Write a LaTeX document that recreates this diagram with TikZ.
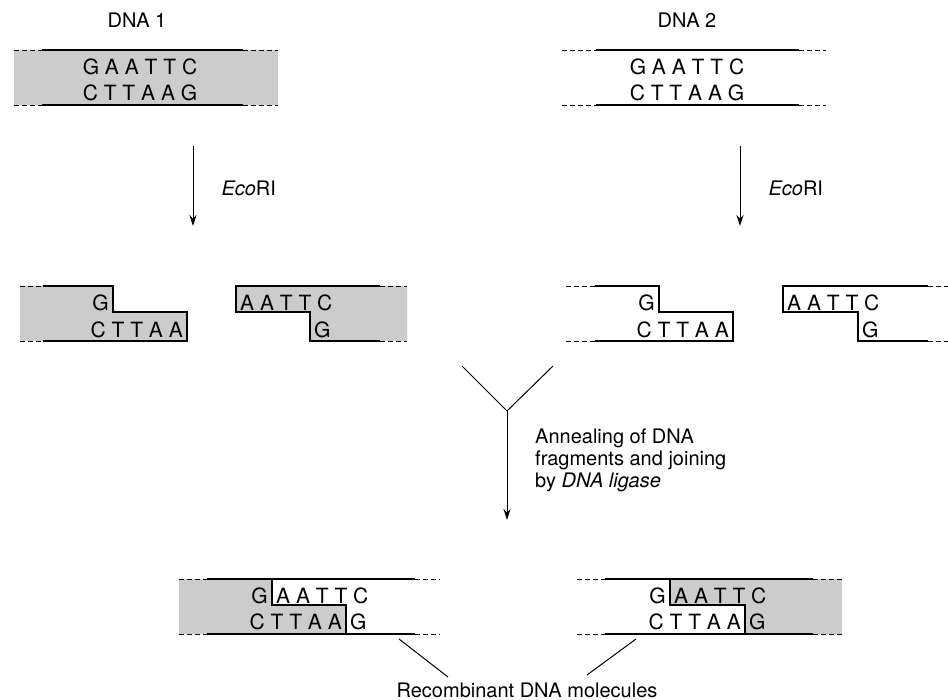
\documentclass[tikz,border=0pt]{standalone}
\usepackage{fontspec}
\setmainfont{TeX Gyre Heros}
\usetikzlibrary{arrows.meta}
\definecolor{dnagray}{HTML}{CCCCCC}

\begin{document}
\begin{tikzpicture}[x=1pt,y=-1pt,
  font=\fontsize{20}{22}\selectfont,
  strand/.style={line width=1.2pt},
  loose/.style={line width=0.8pt,dash pattern=on 5pt off 3pt},
  base/.style={inner sep=0pt,inner xsep=4pt,font=\fontsize{21}{23}\selectfont},
  flow/.style={line width=1pt,-{Stealth[length=11pt,width=7pt]}}]
\useasboundingbox (0,0) rectangle (948,700);

% DNA 1
\node (dnaone) at (137,20) {DNA 1};
\fill[dnagray] (14,50) rectangle (278,105);
\draw[loose] (14,50) -- (42,50) (243,50) -- (278,50) (14,105) -- (42,105) (243,105) -- (278,105);
\draw[strand] (42,50) -- (243,50) (42,105) -- (243,105);
\node[base] (topone) at (140,67) {G A A T T C};
\node[base] (botone) at (140,93) {C T T A A G};

% DNA 2
\node (dnatwo) at (687,20) {DNA 2};
\draw[loose] (562,50) -- (596,50) (799,50) -- (826,50) (562,105) -- (596,105) (799,105) -- (826,105);
\draw[strand] (596,50) -- (799,50) (596,105) -- (799,105);
\node[base] (toptwo) at (687,67) {G A A T T C};
\node[base] (bottwo) at (687,93) {C T T A A G};

% EcoRI cuts
\coordinate (cutonea) at (193,146);
\coordinate (cutoneb) at (193,226);
\coordinate (cuttwoa) at (740,146);
\coordinate (cuttwob) at (740,226);
\draw[flow] (cutonea) -- (cutoneb);
\draw[flow] (cuttwoa) -- (cuttwob);
\node[anchor=west] (ecoone) at (218,188) {\emph{Eco}RI};
\node[anchor=west] (ecotwo) at (765,188) {\emph{Eco}RI};

% fragments of DNA 1
\fill[dnagray] (20,286) -- (113,286) -- (113,312) -- (187,312) -- (187,341) -- (20,341) -- cycle;
\draw[loose] (20,286) -- (43,286) (20,341) -- (43,341);
\draw[strand] (43,286) -- (113,286) -- (113,312) -- (187,312) -- (187,341) -- (43,341);
\node[base,anchor=east] (fragoneg) at (113,303) {G};
\node[base,anchor=east] (fragonec) at (187,330) {C T T A A};

\fill[dnagray] (407,286) -- (236,286) -- (236,312) -- (310,312) -- (310,341) -- (407,341) -- cycle;
\draw[loose] (380,286) -- (407,286) (380,341) -- (407,341);
\draw[strand] (380,286) -- (236,286) -- (236,312) -- (310,312) -- (310,341) -- (380,341);
\node[base,anchor=west] (fragonea) at (236,303) {A A T T C};
\node[base,anchor=west] (fragoneh) at (310,330) {G};

% fragments of DNA 2
\draw[loose] (566,286) -- (595,286) (566,341) -- (595,341);
\draw[strand] (595,286) -- (659,286) -- (659,312) -- (733,312) -- (733,341) -- (595,341);
\node[base,anchor=east] (fragtwog) at (659,303) {G};
\node[base,anchor=east] (fragtwoc) at (733,330) {C T T A A};

\draw[loose] (928,286) -- (948,286) (928,341) -- (948,341);
\draw[strand] (928,286) -- (783,286) -- (783,312) -- (858,312) -- (858,341) -- (928,341);
\node[base,anchor=west] (fragtwoa) at (783,303) {A A T T C};
\node[base,anchor=west] (fragtwoh) at (858,330) {G};

% annealing
\coordinate (joinl) at (462,366);
\coordinate (joinr) at (553,366);
\coordinate (join) at (507,411);
\coordinate (joinb) at (507,520);
\draw[line width=1pt] (joinl) -- (join) -- (joinr);
\draw[flow] (join) -- (joinb);
\node[anchor=north west,inner sep=0pt,align=left] (anneal) at (535,429)
  {Annealing of DNA\\fragments and joining\\by \emph{DNA ligase}};

% recombinant molecules
\fill[dnagray] (179,579) -- (272,579) -- (272,605) -- (346,605) -- (346,634) -- (179,634) -- cycle;
\draw[loose] (179,579) -- (207,579) (415,579) -- (440,579) (179,634) -- (207,634) (415,634) -- (440,634);
\draw[strand] (207,579) -- (415,579) (207,634) -- (415,634);
\draw[strand] (272,579) -- (272,605) -- (346,605) -- (346,634);
\node[base,anchor=east] (reconeg) at (272,596) {G};
\node[base,anchor=west] (recfonea) at (272,596) {A A T T C};
\node[base,anchor=east] (reconec) at (346,622) {C T T A A};
\node[base,anchor=west] (reconeh) at (346,622) {G};

\fill[dnagray] (670,579) -- (842,579) -- (842,634) -- (745,634) -- (745,605) -- (670,605) -- cycle;
\draw[loose] (577,579) -- (605,579) (813,579) -- (842,579) (577,634) -- (605,634) (813,634) -- (842,634);
\draw[strand] (605,579) -- (813,579) (605,634) -- (813,634);
\draw[strand] (670,579) -- (670,605) -- (745,605) -- (745,634);
\node[base,anchor=east] (rectwog) at (670,596) {G};
\node[base,anchor=west] (rectwoa) at (670,596) {A A T T C};
\node[base,anchor=east] (rectwoc) at (745,622) {C T T A A};
\node[base,anchor=west] (rectwoh) at (745,622) {G};

\node (recomb) at (527,690) {Recombinant DNA molecules};
\coordinate (tagone) at (399,639);
\coordinate (tagtwo) at (636,639);
\coordinate (tagonee) at (448,677);
\coordinate (tagtwoe) at (587,675);
\draw[line width=1pt] (tagone) -- (tagonee);
\draw[line width=1pt] (tagtwo) -- (tagtwoe);
\end{tikzpicture}
\end{document}
